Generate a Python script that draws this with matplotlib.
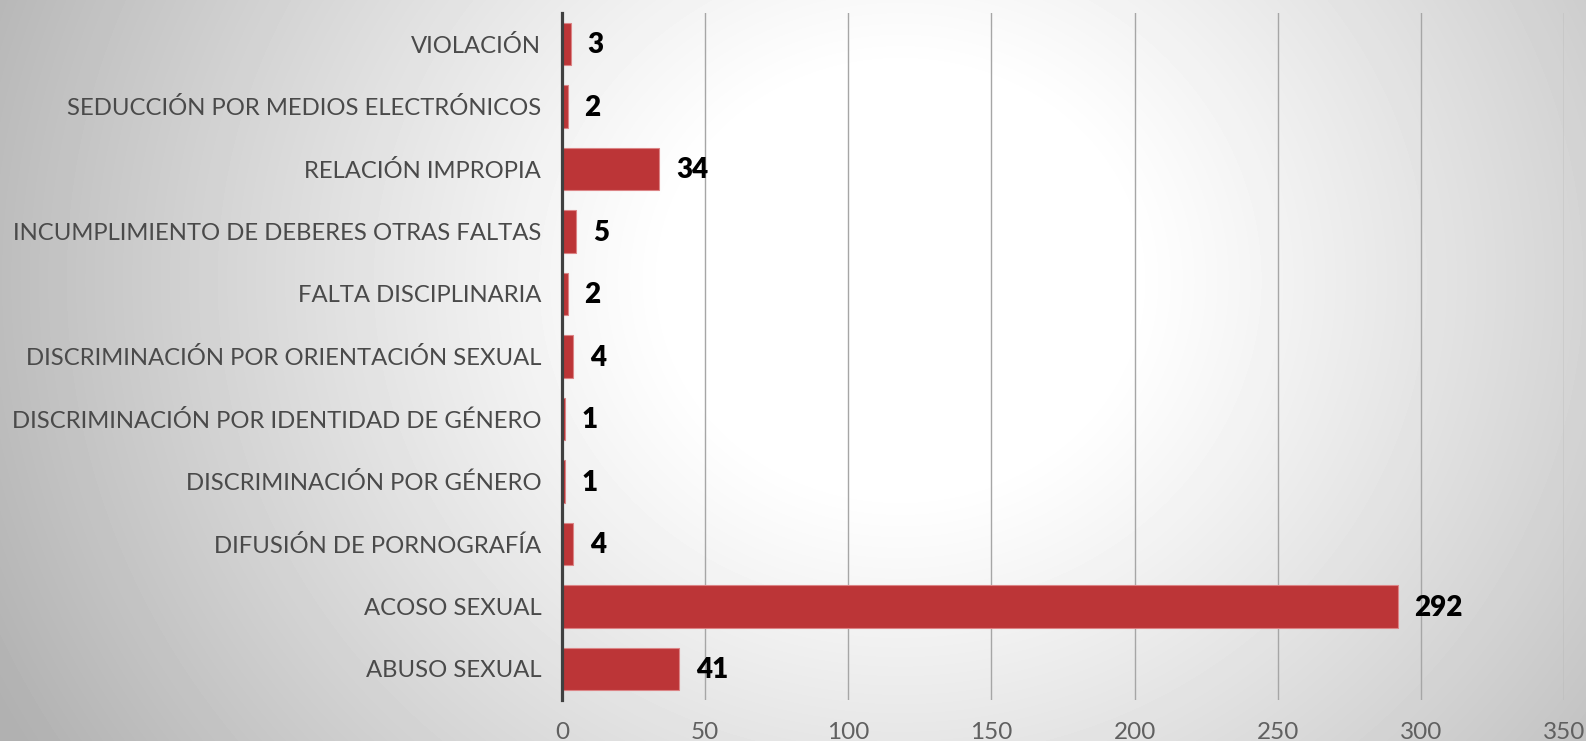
import numpy as np
import matplotlib
matplotlib.use('Agg')
import matplotlib.pyplot as plt

categories = [
    'VIOLACIÓN',
    'SEDUCCIÓN POR MEDIOS ELECTRÓNICOS',
    'RELACIÓN IMPROPIA',
    'INCUMPLIMIENTO DE DEBERES OTRAS FALTAS',
    'FALTA DISCIPLINARIA',
    'DISCRIMINACIÓN POR ORIENTACIÓN SEXUAL',
    'DISCRIMINACIÓN POR IDENTIDAD DE GÉNERO',
    'DISCRIMINACIÓN POR GÉNERO',
    'DIFUSIÓN DE PORNOGRAFÍA',
    'ACOSO SEXUAL',
    'ABUSO SEXUAL',
]
counts = [3, 2, 34, 5, 2, 4, 1, 1, 4, 292, 41]
xticks = [0, 50, 100, 150, 200, 250, 300, 350]


def background(fig):
    # soft radial gradient, white near the upper middle, grey at the edges
    w, h = 1586, 741
    yy, xx = np.mgrid[0:h, 0:w]
    d = np.hypot(xx - 900, (yy - 280) * 1.1)
    t = np.clip((d - 230) / 650, 0, 1.2)
    shade = 1 - 0.25 * t ** 1.1
    bg = fig.add_axes([0, 0, 1, 1], zorder=-10)
    bg.imshow(shade, cmap='gray', vmin=0, vmax=1, aspect='auto',
              interpolation='bilinear')
    bg.axis('off')


def main():
    fig = plt.figure(figsize=(15.86, 7.41), dpi=100)
    background(fig)

    ax = fig.add_axes([562 / 1586, 1 - 700 / 741,
                       (1564 - 562) / 1586, (700 - 12.7) / 741])
    ax.set_facecolor('none')

    y = np.arange(len(categories))[::-1]
    bars = ax.barh(y, counts, height=0.68, color='#bc3537',
                   edgecolor='#dc8486', linewidth=0.8, zorder=3)
    for b, v in zip(bars, counts):
        ax.annotate(str(v), (b.get_width(), b.get_y() + b.get_height() / 2),
                    xytext=(12, -1), textcoords='offset points',
                    ha='left', va='center', fontsize=20, fontweight='heavy',
                    family='Lato', color='black')

    ax.set_xlim(0, 350)
    ax.set_ylim(-0.5, len(categories) - 0.5)
    ax.set_yticks(y)
    ax.set_yticklabels(categories, fontsize=17.2, family='Lato',
                       color='#4a4a4a')
    ax.set_xticks(xticks)
    ax.set_xticklabels([str(t) for t in xticks], fontsize=17.5, family='Lato',
                       color='#606060')
    ax.tick_params(axis='y', length=0, pad=15)
    ax.tick_params(axis='x', length=0, pad=16)

    for s in ['top', 'right', 'bottom']:
        ax.spines[s].set_visible(False)
    ax.spines['left'].set_color('#404040')
    ax.spines['left'].set_linewidth(2.3)
    ax.spines['left'].set_zorder(4)
    ax.xaxis.grid(True, color='#a6a6a6', linewidth=1.0, zorder=0)
    ax.set_axisbelow(True)

    fig.savefig('out.png', dpi=100)


if __name__ == '__main__':
    main()
